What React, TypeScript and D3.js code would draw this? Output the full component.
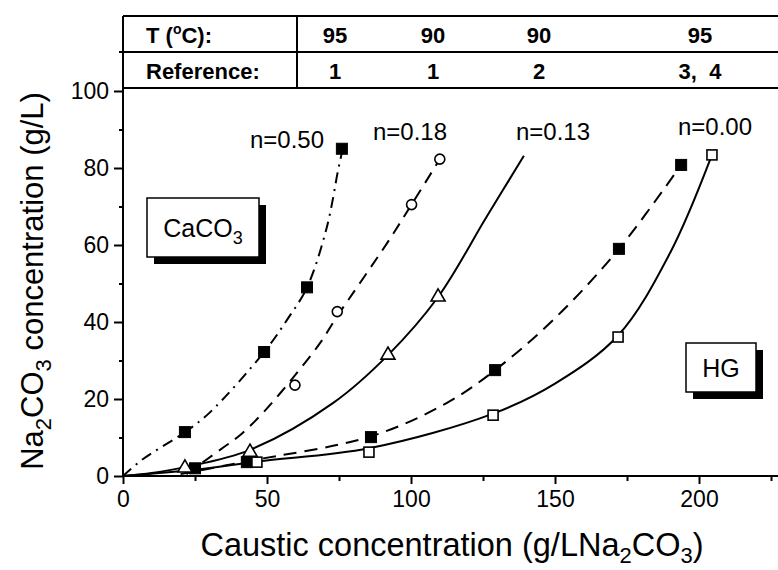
import React, { useEffect, useRef } from 'react';
import * as d3 from 'd3';

// axis ticks
const xTicks = [0, 50, 100, 150, 200];
const xMinor = [25, 75, 125, 175, 225];
const yTicks = [0, 20, 40, 60, 80, 100];
const yMinor = [10, 30, 50, 70, 90];

// table header
const tempRow = ['95', '90', '90', '95'];
const refRow = ['1', '1', '2', '3,  4'];

// measured points
const n050X = [21.5, 49, 63.9, 76];
const n050Y = [11.4, 32.2, 49.0, 85];
const n018X = [59.7, 74.4, 100.2, 110];
const n018Y = [23.6, 42.7, 70.5, 82.3];
const n013X = [21.5, 44.1, 92, 109.4];
const n013Y = [2.1, 6.2, 31.4, 46.5];
const hgFilledX = [25, 43, 86.1, 129.2, 172.2, 193.8];
const hgFilledY = [2, 3.6, 10.1, 27.5, 59, 80.8];
const n000X = [46.5, 85.4, 128.5, 171.9, 204.5];
const n000Y = [3.6, 6.2, 15.8, 36.1, 83.4];

// fitted curves
const fit050X = [0, 6.6, 21.5, 30, 49, 56.9, 63.9, 70.8, 74.7, 76];
const fit050Y = [0, 4.2, 11.4, 16.4, 32.2, 40.5, 49, 64.7, 79.5, 84];
const fit018X = [22, 33.7, 40.6, 48.6, 59, 68.4, 74.4, 91.7, 100.2, 110];
const fit018Y = [0.5, 6.8, 10.6, 16.4, 25.5, 34.5, 41.5, 60.5, 70.5, 82.3];
const fit013X = [0, 10, 21.5, 44.1, 73, 92, 109.4, 126, 139.2];
const fit013Y = [0, 0.8, 2.3, 6.8, 19, 31.4, 46.5, 67, 83.2];
const fitHgX = [20, 43, 86.1, 112.5, 129.2, 150, 172.2, 193.8];
const fitHgY = [0.5, 3.8, 10.3, 19, 27.5, 41, 59, 80.8];
const fit000X = [0, 25, 46.9, 85.4, 128.5, 150, 171.9, 190, 204.5];
const fit000Y = [0, 1.6, 3.8, 7.2, 16.2, 24, 36.5, 58, 83.4];

const FONT = '"Liberation Sans", Arial, Helvetica, sans-serif';

const zip = (xs, ys) => xs.map((v, i) => [v, ys[i]]);

const drawChart = (node) => {
    const svg = d3.select(node);
    svg.selectAll('*').remove();

    const x = d3.scaleLinear().domain([0, 225]).range([123, 771]);
    const y = d3.scaleLinear().domain([0, 100]).range([476, 91]);

    const tableTop = 16;
    const rowH = 36;
    const colSplit = 297;

    // table lines
    const lines = [
        [x(0), tableTop, 778, tableTop],
        [x(0) - 4, tableTop + rowH, 778, tableTop + rowH],
        [x(0), tableTop + 2 * rowH, 778, tableTop + 2 * rowH],
        [colSplit, tableTop, colSplit, tableTop + 2 * rowH],
        [x(0), tableTop, x(0), y(0)],
        [x(0), y(0), 778, y(0)],
    ];
    svg.selectAll('line.frame')
        .data(lines)
        .enter()
        .append('line')
        .attr('x1', (d) => d[0])
        .attr('y1', (d) => d[1])
        .attr('x2', (d) => d[2])
        .attr('y2', (d) => d[3])
        .attr('stroke', 'black')
        .attr('stroke-width', 2);

    // table text
    const t1 = svg.append('text')
        .attr('x', 146).attr('y', tableTop + 27)
        .attr('font-family', FONT).attr('font-size', 22).attr('font-weight', 'bold');
    t1.append('tspan').text('T (');
    t1.append('tspan').attr('font-size', 14).attr('dy', -9).text('o');
    t1.append('tspan').attr('dy', 9).text('C):');
    svg.append('text')
        .attr('x', 146).attr('y', tableTop + rowH + 27)
        .attr('font-family', FONT).attr('font-size', 22).attr('font-weight', 'bold')
        .text('Reference:');
    const colX = [335, 433, 539, 700];
    svg.selectAll('text.temp')
        .data(tempRow)
        .enter()
        .append('text')
        .attr('x', (d, i) => colX[i]).attr('y', tableTop + 27)
        .attr('text-anchor', 'middle')
        .attr('font-family', FONT).attr('font-size', 22).attr('font-weight', 'bold')
        .style('white-space', 'pre')
        .text((d) => d);
    svg.selectAll('text.ref')
        .data(refRow)
        .enter()
        .append('text')
        .attr('x', (d, i) => colX[i]).attr('y', tableTop + rowH + 27)
        .attr('text-anchor', 'middle')
        .attr('font-family', FONT).attr('font-size', 22).attr('font-weight', 'bold')
        .style('white-space', 'pre')
        .text((d) => d);

    // axes
    const yAxis = svg.append('g').attr('transform', `translate(${x(0)},0)`)
        .call(d3.axisLeft(y).tickValues(yTicks).tickSize(9).tickPadding(5));
    const yAxisMinor = svg.append('g').attr('transform', `translate(${x(0)},0)`)
        .call(d3.axisLeft(y).tickValues(yMinor).tickSize(4).tickFormat(() => ''));
    const xAxis = svg.append('g').attr('transform', `translate(0,${y(0)})`)
        .call(d3.axisBottom(x).tickValues(xTicks).tickSize(8).tickPadding(7));
    const xAxisMinor = svg.append('g').attr('transform', `translate(0,${y(0)})`)
        .call(d3.axisBottom(x).tickValues(xMinor).tickSize(5).tickFormat(() => ''));
    [yAxis, yAxisMinor, xAxis, xAxisMinor].forEach((g) => {
        g.select('.domain').remove();
        g.selectAll('line').attr('stroke', 'black').attr('stroke-width', 2);
        g.selectAll('text').attr('font-family', FONT).attr('font-size', 23).attr('fill', 'black');
    });

    // axis titles
    const xt = svg.append('text')
        .attr('x', 452).attr('y', 556)
        .attr('text-anchor', 'middle')
        .attr('font-family', FONT).attr('font-size', 32.5);
    xt.append('tspan').text('Caustic concentration (g/LNa');
    xt.append('tspan').attr('font-size', 22).attr('dy', 7).text('2');
    xt.append('tspan').attr('dy', -7).text('CO');
    xt.append('tspan').attr('font-size', 22).attr('dy', 7).text('3');
    xt.append('tspan').attr('dy', -7).text(')');

    const yt = svg.append('text')
        .attr('transform', 'translate(43,281) rotate(-90)')
        .attr('text-anchor', 'middle')
        .attr('font-family', FONT).attr('font-size', 31);
    yt.append('tspan').text('Na');
    yt.append('tspan').attr('font-size', 22).attr('dy', 8).text('2');
    yt.append('tspan').attr('dy', -8).text('CO');
    yt.append('tspan').attr('font-size', 22).attr('dy', 8).text('3');
    yt.append('tspan').attr('dy', -8).text(' concentration (g/L)');

    // fitted curves
    const line = d3.line()
        .x((d) => x(d[0]))
        .y((d) => y(d[1]))
        .curve(d3.curveCatmullRom.alpha(0.5));
    const curves = [
        { pts: zip(fit050X, fit050Y), dash: '11,6,2,6' },
        { pts: zip(fit018X, fit018Y), dash: '12,8' },
        { pts: zip(fit013X, fit013Y), dash: null },
        { pts: zip(fitHgX, fitHgY), dash: '13,8' },
        { pts: zip(fit000X, fit000Y), dash: null },
    ];
    svg.selectAll('path.fit')
        .data(curves)
        .enter()
        .append('path')
        .attr('d', (d) => line(d.pts))
        .attr('fill', 'none')
        .attr('stroke', 'black')
        .attr('stroke-width', 2)
        .attr('stroke-dasharray', (d) => d.dash);

    // markers
    const squares = (pts, size, filled) => {
        svg.selectAll(null)
            .data(pts)
            .enter()
            .append('rect')
            .attr('x', (d) => x(d[0]) - size / 2)
            .attr('y', (d) => y(d[1]) - size / 2)
            .attr('width', size)
            .attr('height', size)
            .attr('fill', filled ? 'black' : 'white')
            .attr('stroke', 'black')
            .attr('stroke-width', filled ? 1 : 1.6);
    };
    squares(zip(n050X, n050Y), 11, true);
    squares(zip(hgFilledX, hgFilledY), 11, true);
    squares(zip(n000X, n000Y), 10, false);

    svg.selectAll(null)
        .data(zip(n018X, n018Y))
        .enter()
        .append('circle')
        .attr('cx', (d) => x(d[0]))
        .attr('cy', (d) => y(d[1]))
        .attr('r', 5)
        .attr('fill', 'white')
        .attr('stroke', 'black')
        .attr('stroke-width', 1.6);

    svg.selectAll(null)
        .data(zip(n013X, n013Y))
        .enter()
        .append('path')
        .attr('transform', (d) => `translate(${x(d[0])},${y(d[1])})`)
        .attr('d', d3.symbol(d3.symbolTriangle).size(85)())
        .attr('fill', 'white')
        .attr('stroke', 'black')
        .attr('stroke-width', 1.6);

    // n labels
    const nLabels = [
        { text: 'n=0.50', cx: 287, by: 148 },
        { text: 'n=0.18', cx: 410, by: 140 },
        { text: 'n=0.13', cx: 553, by: 140 },
        { text: 'n=0.00', cx: 715, by: 135 },
    ];
    svg.selectAll('text.nlab')
        .data(nLabels)
        .enter()
        .append('text')
        .attr('x', (d) => d.cx)
        .attr('y', (d) => d.by)
        .attr('text-anchor', 'middle')
        .attr('font-family', FONT)
        .attr('font-size', 24)
        .text((d) => d.text);

    // boxed annotations with drop shadow
    const box = (bx, by, w, h, build) => {
        svg.append('rect')
            .attr('x', bx + 7).attr('y', by + 7).attr('width', w).attr('height', h)
            .attr('fill', 'black');
        svg.append('rect')
            .attr('x', bx).attr('y', by).attr('width', w).attr('height', h)
            .attr('fill', 'white').attr('stroke', 'black').attr('stroke-width', 1.5);
        const t = svg.append('text')
            .attr('x', bx + w / 2).attr('y', by + h / 2 + 9)
            .attr('text-anchor', 'middle')
            .attr('font-family', FONT).attr('font-size', 25);
        build(t);
    };
    box(147, 198, 112, 59, (t) => {
        t.append('tspan').text('CaCO');
        t.append('tspan').attr('font-size', 18).attr('dy', 7).text('3');
    });
    box(686, 343, 70, 49, (t) => {
        t.append('tspan').text('HG');
    });
};

const App = () => {
    const ref = useRef(null);
    useEffect(() => {
        drawChart(ref.current);
    }, []);

    return (
        <svg
            ref={ref}
            width={778}
            height={570}
            style={{ position: 'absolute', left: 0, top: 0, background: 'white' }}
        />
    );
};

export default App;
